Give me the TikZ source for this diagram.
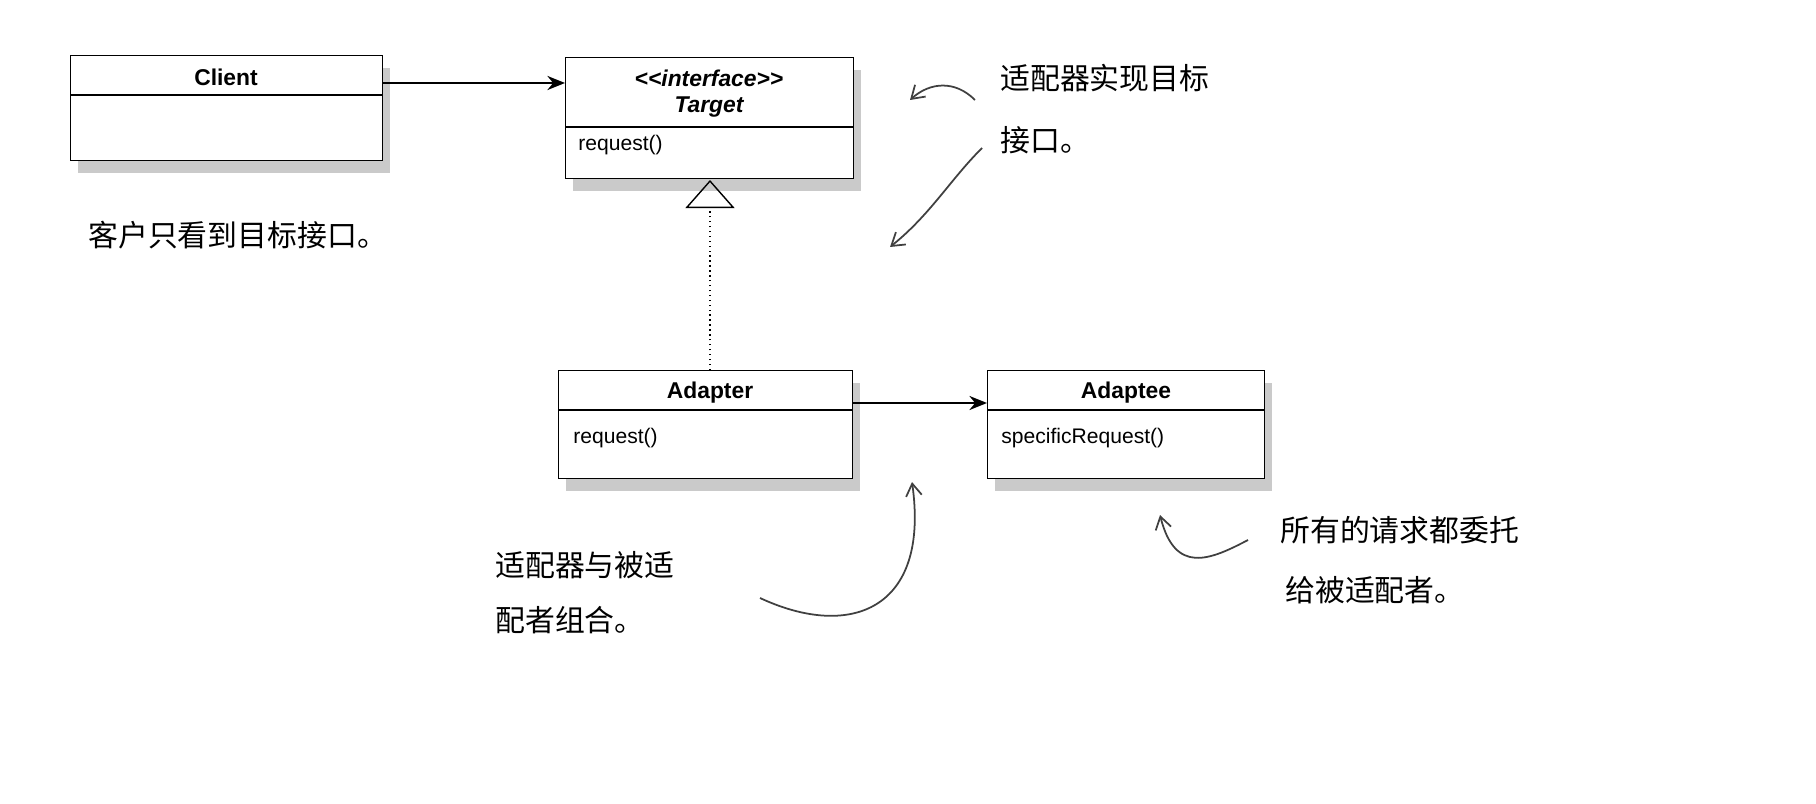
\documentclass[tikz,border=0pt]{standalone}
\usepackage{fontspec}
\setmainfont{Liberation Sans}
\newfontfamily\cjk{Noto Sans CJK SC}
\usetikzlibrary{arrows.meta,shadows,positioning}
\tikzset{
  box/.style={draw, thick, fill=white, anchor=north west, inner sep=0pt,
    drop shadow={shadow xshift=4pt, shadow yshift=-7pt, opacity=0.35, fill=black!60}},
  head/.style={font=\bfseries\fontsize{13}{15}\selectfont, inner sep=0pt},
  op/.style={font=\fontsize{12}{14}\selectfont, inner sep=0pt, anchor=west},
  note/.style={font=\cjk\fontsize{17}{20}\selectfont, anchor=west, inner sep=0pt},
  link/.style={line width=1.3pt, -{Stealth[length=10pt,width=8pt]}},
  pen/.style={line width=1pt, black!75, -{Straight Barb[length=7pt,width=9pt]}}
}
\begin{document}
\begin{tikzpicture}[x=0.02cm, y=-0.02cm]
    \useasboundingbox (0,0) rectangle (1816,804);
    %% Klassen
    \node[box, minimum width=312*0.02cm, minimum height=105*0.02cm] (client) at (70,55) {};
    \node[box, minimum width=288*0.02cm, minimum height=121*0.02cm] (target) at (565,57) {};
    \node[box, minimum width=294*0.02cm, minimum height=108*0.02cm] (adapter) at (558,370) {};
    \node[box, minimum width=277*0.02cm, minimum height=108*0.02cm] (adaptee) at (987,370) {};
    \draw[thick] (70,95) -- (382,95);
    \draw[thick] (565,127) -- (853,127);
    \draw[thick] (558,410) -- (852,410);
    \draw[thick] (987,410) -- (1264,410);
    \node[head] (clientname) at (226,77) {Client};
    \node[head, font=\bfseries\itshape\fontsize{13}{15}\selectfont] (stereo) at (709,78) {{<}{<}interface{>}{>}};
    \node[head, font=\bfseries\itshape\fontsize{13}{15}\selectfont] (targetname) at (709,107) {Target};
    \node[op] (treq) at (578,145) {request()};
    \node[head] (adaptername) at (710,393) {Adapter};
    \node[op] (areq) at (573,438) {request()};
    \node[head] (adapteename) at (1126,393) {Adaptee};
    \node[op] (spec) at (1001,438) {specificRequest()};
    %% Verbindungen
    \coordinate (c1) at (382,83);
    \coordinate (t1) at (565,83);
    \draw[link] (c1) -- (t1);
    \coordinate (a1) at (710,370);
    \coordinate (t2) at (710,180);
    \draw[thick, dotted, -{Triangle[open, length=16pt, width=28pt]}] (a1) -- (t2);
    \coordinate (a2) at (852,403);
    \coordinate (e1) at (987,403);
    \draw[link] (a2) -- (e1);
    %% Notizen
    \node[note] (n1) at (88,235) {客户只看到目标接口。};
    \node[note] (n2a) at (1000,78) {适配器实现目标};
    \node[note] (n2b) at (1000,140) {接口。};
    \node[note] (n3a) at (495,565) {适配器与被适};
    \node[note] (n3b) at (495,620) {配者组合。};
    \node[note] (n4a) at (1280,530) {所有的请求都委托};
    \node[note] (n4b) at (1285,590) {给被适配者。};
    \draw[pen] (975,100) .. controls (955,80) and (930,82) .. (910,100);
    \draw[pen] (982,148) .. controls (950,180) and (930,215) .. (890,247);
    \draw[pen] (760,598) .. controls (850,640) and (930,610) .. (912,482);
    \draw[pen] (1248,540) .. controls (1210,560) and (1175,575) .. (1160,515);
\end{tikzpicture}
\end{document}
